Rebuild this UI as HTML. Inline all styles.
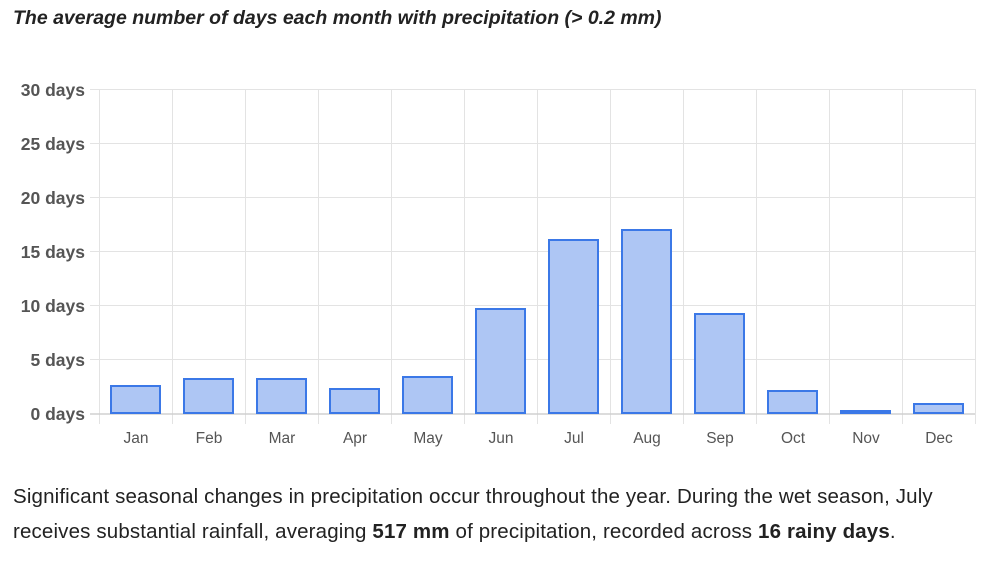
<!DOCTYPE html>
<html><head><style>
body{margin:0;background:#fff;width:995px;height:567px;overflow:hidden;font-family:"Liberation Sans",Arial,sans-serif;}
.t{position:absolute;left:13px;top:7px;font-size:19.5px;font-weight:bold;font-style:italic;color:#222;white-space:nowrap;}
.p{position:absolute;left:13px;top:479px;font-size:20.5px;letter-spacing:0.15px;color:#222;line-height:35px;width:970px;}
</style></head><body>
<div class="t">The average number of days each month with precipitation (&gt; 0.2 mm)</div>
<svg width="995" height="567" style="position:absolute;left:0;top:0" font-family="Liberation Sans, Arial, sans-serif">
<g stroke="#e3e3e3" stroke-width="1">
<line x1="90" y1="89.5" x2="975" y2="89.5"/><line x1="90" y1="143.5" x2="975" y2="143.5"/>
<line x1="90" y1="197.5" x2="975" y2="197.5"/><line x1="90" y1="251.5" x2="975" y2="251.5"/>
<line x1="90" y1="305.5" x2="975" y2="305.5"/><line x1="90" y1="359.5" x2="975" y2="359.5"/>
<line x1="99.5" y1="89" x2="99.5" y2="424"/><line x1="172.5" y1="89" x2="172.5" y2="424"/>
<line x1="245.5" y1="89" x2="245.5" y2="424"/><line x1="318.5" y1="89" x2="318.5" y2="424"/>
<line x1="391.5" y1="89" x2="391.5" y2="424"/><line x1="464.5" y1="89" x2="464.5" y2="424"/>
<line x1="537.5" y1="89" x2="537.5" y2="424"/><line x1="610.5" y1="89" x2="610.5" y2="424"/>
<line x1="683.5" y1="89" x2="683.5" y2="424"/><line x1="756.5" y1="89" x2="756.5" y2="424"/>
<line x1="829.5" y1="89" x2="829.5" y2="424"/><line x1="902.5" y1="89" x2="902.5" y2="424"/>
<line x1="975.5" y1="89" x2="975.5" y2="424"/>
</g>
<line x1="90" y1="414" x2="975" y2="414" stroke="#d0d0d0" stroke-width="1.5"/>
<g font-size="17.5" font-weight="bold" fill="#555" text-anchor="end">
<text x="85" y="96">30 days</text><text x="85" y="150">25 days</text><text x="85" y="204">20 days</text>
<text x="85" y="258">15 days</text><text x="85" y="312">10 days</text><text x="85" y="366">5 days</text><text x="85" y="420">0 days</text>
</g>
<g fill="#aec6f4" stroke="#3b78e7" stroke-width="2">
<rect x="111" y="386" width="49" height="27"/>
<rect x="184" y="379" width="49" height="34"/>
<rect x="257" y="379" width="49" height="34"/>
<rect x="330" y="389" width="49" height="24"/>
<rect x="403" y="377" width="49" height="36"/>
<rect x="476" y="309" width="49" height="104"/>
<rect x="549" y="240" width="49" height="173"/>
<rect x="622" y="230" width="49" height="183"/>
<rect x="695" y="314" width="49" height="99"/>
<rect x="768" y="391" width="49" height="22"/>
<rect x="841" y="411" width="49" height="2"/>
<rect x="914" y="404" width="49" height="9"/>
</g>
<g font-size="15.5" fill="#555" text-anchor="middle">
<text x="136" y="443">Jan</text><text x="209" y="443">Feb</text><text x="282" y="443">Mar</text>
<text x="355" y="443">Apr</text><text x="428" y="443">May</text><text x="501" y="443">Jun</text>
<text x="574" y="443">Jul</text><text x="647" y="443">Aug</text><text x="720" y="443">Sep</text>
<text x="793" y="443">Oct</text><text x="866" y="443">Nov</text><text x="939" y="443">Dec</text>
</g>
</svg>
<div class="p">Significant seasonal changes in precipitation occur throughout the year. During the wet season, July receives substantial rainfall, averaging <b>517 mm</b> of precipitation, recorded across <b>16 rainy days</b>.</div>
</body></html>
